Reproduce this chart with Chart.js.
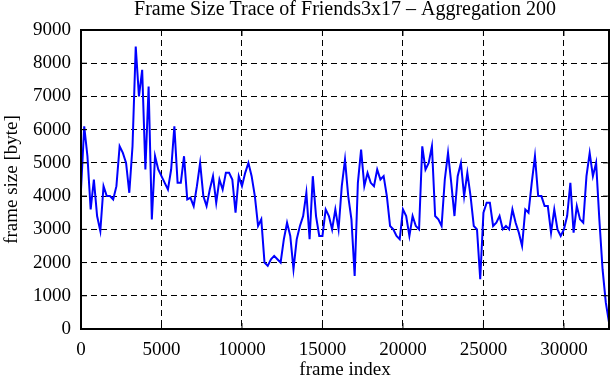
<!DOCTYPE html>
<html>
<head>
<meta charset="utf-8">
<script src="https://cdn.jsdelivr.net/npm/chart.js@4.4.0/dist/chart.umd.min.js"></script>
<style>
  html, body { margin: 0; padding: 0; background: #fff; }
  #wrap { width: 611px; height: 380px; }
</style>
</head>
<body>
<div id="wrap"><canvas id="traceChart" width="611" height="380"></canvas></div>
<script>
// aggregated frame sizes, one value per 200 frames
const AGG = 200;
const frameSizes = [
  4200, 6100, 5200, 3600, 4500, 3400, 2950, 4300, 4000, 4000,
  3900, 4300, 5500, 5300, 5000, 4100, 5500, 8500, 7000, 7800,
  4800, 7300, 3300, 5200, 4800, 4600, 4400, 4200, 4800, 6100,
  4400, 4400, 5200, 3900, 3950, 3700, 4300, 5000, 4000, 3700,
  4200, 4600, 3800, 4500, 4200, 4700, 4700, 4500, 3500, 4600,
  4300, 4700, 5000, 4600, 4000, 3100, 3300, 2000, 1900, 2100,
  2200, 2100, 2000, 2700, 3200, 2800, 1800, 2700, 3100, 3400,
  4100, 2700, 4600, 3400, 2800, 2800, 3600, 3400, 3000, 3600,
  3000, 4300, 5100, 4000, 3300, 1600, 4400, 5400, 4300, 4700,
  4400, 4300, 4800, 4500, 4600, 4000, 3100, 3000, 2800, 2700,
  3600, 3400, 2800, 3400, 3100, 3000, 5500, 4800, 5000, 5500,
  3400, 3300, 3100, 4500, 5300, 4400, 3400, 4600, 5000, 4000,
  4700, 4000, 3100, 3000, 1500, 3500, 3800, 3800, 3100, 3200,
  3400, 3000, 3100, 3000, 3600, 3200, 2900, 2500, 3600, 3500,
  4400, 5200, 4000, 4000, 3700, 3700, 2900, 3600, 3000, 2800,
  3000, 3400, 4400, 2900, 3700, 3300, 3200, 4600, 5300, 4600,
  5000, 3300, 1800, 800, 200
];
const frameIndex = frameSizes.map((_, i) => i * AGG);

const xTicks = [0, 5000, 10000, 15000, 20000, 25000, 30000];
const yTicks = [0, 1000, 2000, 3000, 4000, 5000, 6000, 7000, 8000, 9000];

const serif = "'Liberation Serif', 'DejaVu Serif', serif";

// gnuplot style box with inward ticks on all four sides
const framePlugin = {
  id: 'frame',
  afterDraw(chart) {
    const { ctx, chartArea: a, scales: { x, y } } = chart;
    ctx.save();
    ctx.strokeStyle = '#000';
    ctx.lineWidth = 1;
    ctx.beginPath();
    x.ticks.forEach(t => {
      const px = x.getPixelForValue(t.value);
      ctx.moveTo(px, a.bottom); ctx.lineTo(px, a.bottom - 6);
      ctx.moveTo(px, a.top); ctx.lineTo(px, a.top + 6);
    });
    y.ticks.forEach(t => {
      const py = y.getPixelForValue(t.value);
      ctx.moveTo(a.left, py); ctx.lineTo(a.left + 6, py);
      ctx.moveTo(a.right, py); ctx.lineTo(a.right - 6, py);
    });
    ctx.stroke();
    ctx.lineWidth = 2;
    ctx.strokeRect(a.left, a.top, a.right - a.left, a.bottom - a.top);
    ctx.restore();
  }
};

const ctx = document.getElementById('traceChart').getContext('2d');

new Chart(ctx, {
  type: 'line',
  data: {
    datasets: [{
      data: frameIndex.map((f, i) => ({ x: f, y: frameSizes[i] })),
      borderColor: '#0000ff',
      borderWidth: 2,
      pointRadius: 0,
      tension: 0,
      fill: false
    }]
  },
  options: {
    responsive: false,
    animation: false,
    layout: { padding: { left: 0, right: 2, top: 0, bottom: 0 } },
    plugins: {
      legend: { display: false },
      tooltip: { enabled: false },
      title: {
        display: true,
        fullSize: false,
        text: 'Frame Size Trace of Friends3x17 \u2013 Aggregation 200',
        color: '#000',
        font: { family: serif, size: 20, weight: 'normal', lineHeight: 1 },
        padding: { top: 0, bottom: 10 }
      }
    },
    scales: {
      x: {
        type: 'linear',
        min: 0,
        max: frameIndex[frameIndex.length - 1],
        afterBuildTicks: s => { s.ticks = xTicks.map(v => ({ value: v })); },
        afterFit: s => { s.height = 51; },
        ticks: {
          color: '#000',
          padding: 10,
          maxRotation: 0,
          callback: v => String(v),
          font: { family: serif, size: 19 }
        },
        grid: { color: '#000', lineWidth: 1, drawTicks: false },
        border: { display: false, dash: [6, 4] },
        title: {
          display: true,
          text: 'frame index',
          color: '#000',
          font: { family: serif, size: 19, lineHeight: 1 },
          padding: { top: 0, bottom: 0 }
        }
      },
      y: {
        min: 0,
        max: 9000,
        afterBuildTicks: s => { s.ticks = yTicks.map(v => ({ value: v })); },
        afterFit: s => { s.width = 81; },
        ticks: {
          color: '#000',
          padding: 10,
          callback: v => String(v),
          font: { family: serif, size: 19 }
        },
        grid: { color: '#000', lineWidth: 1, drawTicks: false },
        border: { display: false, dash: [6, 4] },
        title: {
          display: true,
          text: 'frame size [byte]',
          color: '#000',
          font: { family: serif, size: 19, lineHeight: 1 },
          padding: { top: 3, bottom: 0 }
        }
      }
    }
  },
  plugins: [framePlugin]
});
</script>
</body>
</html>
